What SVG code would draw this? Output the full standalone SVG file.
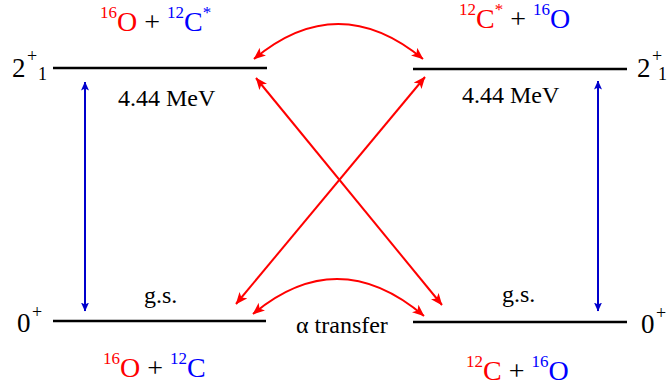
<svg xmlns="http://www.w3.org/2000/svg" width="668" height="388" viewBox="0 0 668 388">
<style>
text{font-family:"Liberation Serif","Times New Roman",serif;fill:#000}
.t{font-size:28px}
.s{font-size:17px}
.lab{font-size:27px}
.lsm{font-size:18px}
.m{font-size:24px}
.r{fill:#ff0000}
.b{fill:#0000ff}
.lvl{stroke:#000;stroke-width:2.5;fill:none}
.ra{stroke:#ff0000;stroke-width:2;fill:none;marker-start:url(#rh);marker-end:url(#rh)}
.ba{stroke:#0000cc;stroke-width:2;fill:none;marker-start:url(#bh);marker-end:url(#bh)}
</style>
<defs>
<marker id="rh" markerUnits="userSpaceOnUse" viewBox="0 0 12 10" markerWidth="12" markerHeight="10" refX="11.5" refY="5" orient="auto-start-reverse"><path d="M0,0 L12,5 L0,10 L3,5 z" fill="#ff0000"/></marker>
<marker id="bh" markerUnits="userSpaceOnUse" viewBox="0 0 9 8" markerWidth="9" markerHeight="8" refX="8.5" refY="4" orient="auto-start-reverse"><path d="M0,0 L9,4 L0,8 L2,4 z" fill="#0000cc"/></marker>
</defs>

<g id="left-excited">
<line class="lvl" x1="53" y1="68" x2="267" y2="68"/>
<text class="lab" x="12" y="77">2</text>
<text class="lsm" x="27" y="62">+</text>
<text class="lsm" x="38" y="80">1</text>
<text class="t" x="100" y="31"><tspan class="s r" dy="-13">16</tspan><tspan class="r" dy="13">O</tspan> + <tspan class="s b" dy="-13">12</tspan><tspan class="b" dy="13">C</tspan><tspan class="s b" dy="-13">*</tspan></text>
<text class="m" x="118" y="106">4.44 MeV</text>
</g>

<g id="right-excited">
<line class="lvl" x1="413" y1="69" x2="627" y2="69"/>
<text class="lab" x="637" y="77">2</text>
<text class="lsm" x="652" y="62">+</text>
<text class="lsm" x="658" y="80">1</text>
<text class="t" x="459" y="28"><tspan class="s r" dy="-13">12</tspan><tspan class="r" dy="13">C</tspan><tspan class="s r" dy="-13">*</tspan><tspan dy="13"> + </tspan><tspan class="s b" dy="-13">16</tspan><tspan class="b" dy="13">O</tspan></text>
<text class="m" x="462" y="103">4.44 MeV</text>
</g>

<g id="left-ground">
<line class="lvl" x1="53" y1="321" x2="266" y2="321"/>
<text class="lab" x="17" y="332">0</text>
<text class="lsm" x="32" y="318">+</text>
<text class="m" x="144" y="303">g.s.</text>
<text class="t" x="103" y="377"><tspan class="s r" dy="-13">16</tspan><tspan class="r" dy="13">O</tspan> + <tspan class="s b" dy="-13">12</tspan><tspan class="b" dy="13">C</tspan></text>
</g>

<g id="right-ground">
<line class="lvl" x1="413" y1="322" x2="627" y2="322"/>
<text class="lab" x="641" y="333">0</text>
<text class="lsm" x="656" y="319">+</text>
<text class="m" x="502" y="302">g.s.</text>
<text class="t" x="466" y="380"><tspan class="s r" dy="-13">12</tspan><tspan class="r" dy="13">C</tspan> + <tspan class="s b" dy="-13">16</tspan><tspan class="b" dy="13">O</tspan></text>
</g>

<g id="connectors">
<line class="ba" x1="85" y1="82" x2="85" y2="311"/>
<line class="ba" x1="598" y1="81" x2="598" y2="311"/>
<path class="ra" d="M254,59 Q338,-11 423,59"/>
<path class="ra" d="M253,314 Q338,243 424,316"/>
<path class="ra" d="M256,78 L442,305"/>
<path class="ra" d="M425,77 L236,304"/>
<text class="m" x="296" y="333">α transfer</text>
</g>
</svg>
